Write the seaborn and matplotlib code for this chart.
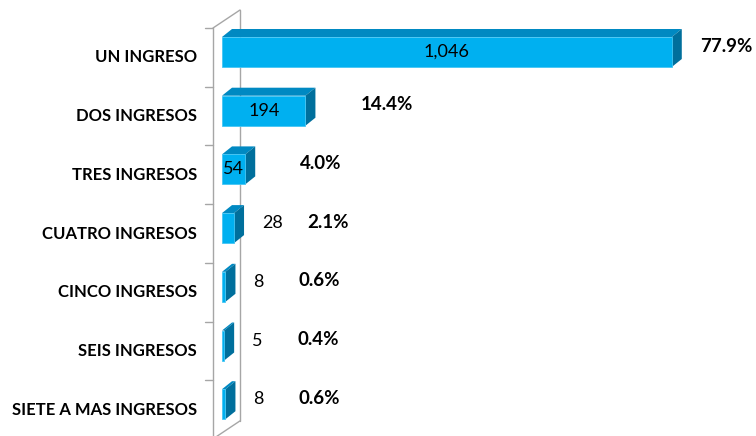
import matplotlib
matplotlib.use("Agg")
import matplotlib.pyplot as plt
from matplotlib.patches import Polygon
import pandas as pd
import seaborn as sns

categories = ["UN INGRESO", "DOS INGRESOS", "TRES INGRESOS", "CUATRO INGRESOS",
              "CINCO INGRESOS", "SEIS INGRESOS", "SIETE A MAS INGRESOS"]
counts = [1046, 194, 54, 28, 8, 5, 8]
percents = [77.9, 14.4, 4.0, 2.1, 0.6, 0.4, 0.6]

FRONT = "#00B0F0"
TOP = "#0089C2"
SIDE = "#006F9C"
WALL = "#A6A6A6"

W, H = 756, 436
PX_X = 0.43   # pixels per count
PX_Y = 58.7   # pixels per category
X0 = 222      # pixel where bars start
Y0 = 52       # pixel centre of the first bar
DEPTH = (10, 8)  # 3d depth of the bars in pixels (right, up)


def dx(p):
    return p / PX_X


def dy(p):
    return p / PX_Y


def px(xp, yp):
    # figure pixel -> data coords
    return dx(xp - X0), dy(yp - Y0)


sns.set_theme(style="white")
plt.rcParams["font.family"] = ["Lato", "DejaVu Sans"]

fig = plt.figure(figsize=(W / 100, H / 100), dpi=100)
ax = fig.add_axes([X0 / W, 0, (W - X0) / W, 1])

df = pd.DataFrame({"Category": categories, "Count": counts})
sns.barplot(data=df, x="Count", y="Category", orient="h", color=FRONT,
            saturation=1, width=30 / PX_Y, ax=ax,
            edgecolor="#45C6F4", linewidth=0.6, zorder=3)
ax.set_xlim(0, (W - X0) / PX_X)
ax.set_ylim((H - Y0) / PX_Y, -Y0 / PX_Y)
ax.axis("off")

# 3d faces for each bar
ddx, ddy = dx(DEPTH[0]), dy(DEPTH[1])
for patch in ax.patches[:len(counts)]:
    x0, w = patch.get_x(), patch.get_width()
    y_top, h = patch.get_y(), patch.get_height()
    x1, y_bot = x0 + w, y_top + h
    top = Polygon([(x0, y_top), (x1, y_top), (x1 + ddx, y_top - ddy),
                   (x0 + ddx, y_top - ddy)], closed=True,
                  facecolor=TOP, edgecolor="none", zorder=2)
    side = Polygon([(x1, y_top), (x1 + ddx, y_top - ddy),
                    (x1 + ddx, y_bot - ddy), (x1, y_bot)], closed=True,
                   facecolor=SIDE, edgecolor="none", zorder=2)
    ax.add_patch(top)
    ax.add_patch(side)

# wall lines of the 3d chart
n = len(categories)
front_top = 28
back_top = 10
wall_bottom = front_top + PX_Y * n
lines = [
    [(213, front_top), (213, wall_bottom)],
    [(240, back_top), (240, wall_bottom - 18)],
    [(213, front_top), (240, back_top)],
    [(240, wall_bottom - 18), (213, wall_bottom)],
]
for k in range(n + 1):
    yk = front_top + PX_Y * k
    lines.append([(205, yk), (213, yk)])
for seg in lines:
    (xa, ya), (xb, yb) = px(*seg[0]), px(*seg[1])
    ax.plot([xa, xb], [ya, yb], color=WALL, lw=1, clip_on=False, zorder=1)

# category labels
for i, cat in enumerate(categories):
    lx, _ = px(197, 0)
    ax.text(lx, i + dy(5.5), cat, ha="right", va="center", fontsize=12,
            fontweight="bold", color="black", clip_on=False)

# value and percent labels
for i, (v, p) in enumerate(zip(counts, percents)):
    bar_end = v * PX_X + DEPTH[0]
    if v >= 50:
        ax.text(v / 2, i, f"{v:,}", ha="center", va="center",
                fontsize=13, color="black", zorder=4)
        pct_left = min(bar_end + 45, 700 - X0)
    else:
        cnt_left = bar_end + 18
        ax.text(dx(cnt_left), i - dy(5), f"{v:,}", ha="left", va="center",
                fontsize=13, color="black")
        pct_left = cnt_left + 45
    ax.text(dx(pct_left), i - dy(6), f"{p:.1f}%", ha="left", va="center",
            fontsize=13.5, fontweight="bold", color="black")

fig.savefig("out.png", dpi=100)
